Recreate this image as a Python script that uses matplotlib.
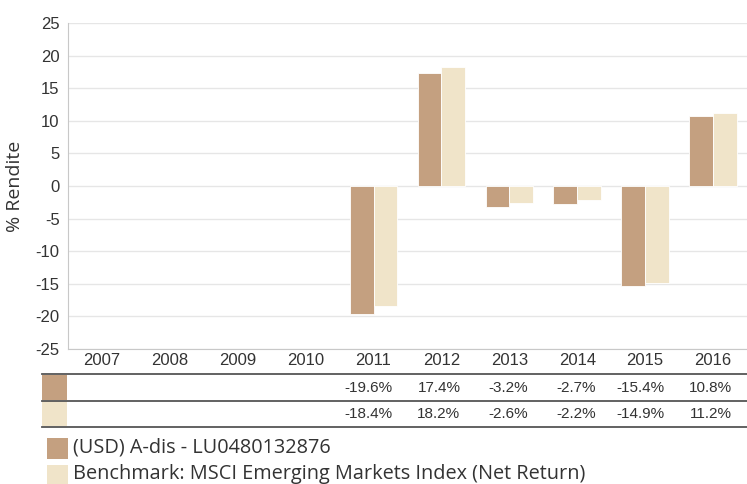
import matplotlib
matplotlib.use('Agg')
import matplotlib.pyplot as plt
from matplotlib.lines import Line2D
from matplotlib.patches import Rectangle
import numpy as np

# Data
years = ['2007', '2008', '2009', '2010', '2011', '2012', '2013', '2014', '2015', '2016']
fund = [None, None, None, None, -19.6, 17.4, -3.2, -2.7, -15.4, 10.8]
bench = [None, None, None, None, -18.4, 18.2, -2.6, -2.2, -14.9, 11.2]
fund_name = '(USD) A-dis - LU0480132876'
bench_name = 'Benchmark: MSCI Emerging Markets Index (Net Return)'

C_FUND = '#c4a080'
C_BENCH = '#f0e4c9'
TXT = '#333333'

W, H = 747, 484
fig = plt.figure(figsize=(W / 100, H / 100), dpi=100)


def fx(px):
    return px / W


def fy(py):
    return 1 - py / H


# main plot area in pixels: left 68, right 747, top 23, bottom 349
AX_L, AX_R = 68, 747
ax = fig.add_axes([fx(AX_L), fy(349), fx(AX_R - AX_L), (349 - 23) / H])
x = np.arange(len(years))
bw = 0.35

fx_idx = [i for i, v in enumerate(fund) if v is not None]
bx_idx = [i for i, v in enumerate(bench) if v is not None]
ax.bar(x[fx_idx] - bw / 2, [fund[i] for i in fx_idx], width=bw,
       color=C_FUND, edgecolor='white', linewidth=0.6, zorder=3)
ax.bar(x[bx_idx] + bw / 2, [bench[i] for i in bx_idx], width=bw,
       color=C_BENCH, edgecolor='white', linewidth=0.6, zorder=3)

ax.set_xlim(-0.5, len(years) - 0.5)
ax.set_ylim(-25, 25)
ax.set_yticks(np.arange(-25, 26, 5))
ax.set_yticklabels([str(v) for v in range(-25, 26, 5)],
                   fontsize=12, color=TXT, family='Liberation Sans')
ax.set_xticks(x)
ax.set_xticklabels(years, fontsize=12, color=TXT, family='Liberation Sans')
ax.tick_params(axis='both', length=0)
ax.tick_params(axis='x', pad=3)
ax.tick_params(axis='y', pad=6)
ax.grid(axis='y', color='#e6e6e6', linewidth=1, zorder=0)
for s in ['top', 'right']:
    ax.spines[s].set_visible(False)
ax.spines['left'].set_color('#c8c8c8')
ax.spines['bottom'].set_color('#c8c8c8')
ax.set_ylabel('% Rendite', fontsize=14, color=TXT, family='Open Sans',
              va='center')
ax.yaxis.set_label_coords((15 - AX_L) / (AX_R - AX_L), 0.5)

# table under the chart
for py in [374, 401, 427]:
    fig.add_artist(Line2D([fx(42), fx(747)], [fy(py), fy(py)],
                          color='#555555', linewidth=1.3))
fig.add_artist(Rectangle((fx(42), fy(400)), fx(25), 25 / H, color=C_FUND, lw=0))
fig.add_artist(Rectangle((fx(42), fy(426)), fx(25), 25 / H, color=C_BENCH, lw=0))

tr = matplotlib.transforms.blended_transform_factory(ax.transData, fig.transFigure)
for i in range(len(years)):
    if fund[i] is not None:
        fig.text(i + 0.28, fy(388), f'{fund[i]:.1f}%', transform=tr, ha='right',
                 va='center', fontsize=11, color=TXT, family='Liberation Sans')
    if bench[i] is not None:
        fig.text(i + 0.28, fy(414), f'{bench[i]:.1f}%', transform=tr, ha='right',
                 va='center', fontsize=11, color=TXT, family='Liberation Sans')

# legend
fig.add_artist(Rectangle((fx(47), fy(459)), fx(21), 21 / H, color=C_FUND, lw=0))
fig.add_artist(Rectangle((fx(47), fy(486)), fx(21), 21 / H, color=C_BENCH, lw=0))
fig.text(fx(73), fy(448), fund_name, va='center', ha='left', fontsize=14.3,
         color=TXT, family='Open Sans')
fig.text(fx(73), fy(474), bench_name, va='center', ha='left', fontsize=14.3,
         color=TXT, family='Open Sans')

fig.savefig('out.png', dpi=100)
